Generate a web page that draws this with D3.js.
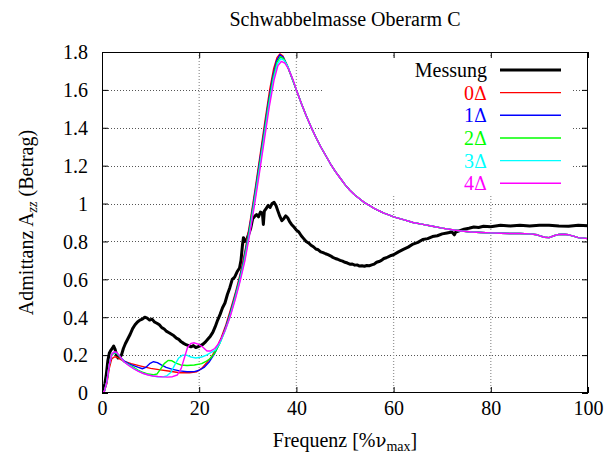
<!DOCTYPE html>
<html>
<head>
<meta charset="utf-8">
<script src="https://cdn.jsdelivr.net/npm/d3@7/dist/d3.min.js"></script>
<style>
  html, body { margin: 0; padding: 0; background: #fff; }
  svg { display: block; }
</style>
</head>
<body>
<svg id="chart" width="605" height="466" font-family="Liberation Serif"></svg>
<script>
// Axis ticks
const xTicks = [0, 20, 40, 60, 80, 100];
const xTickLabels = ["0", "20", "40", "60", "80", "100"];
const yTicks = [0, 0.2, 0.4, 0.6, 0.8, 1.0, 1.2, 1.4, 1.6, 1.8];
const yTickLabels = ["0", "0.2", "0.4", "0.6", "0.8", "1", "1.2", "1.4", "1.6", "1.8"];

// Series names (number + Greek suffix) and colours
const seriesNames = ["Messung", "0Δ", "1Δ", "2Δ", "3Δ", "4Δ"];
const seriesColors = ["#000000", "#ff0000", "#0000ff", "#00ff00", "#00ffff", "#ff00ff"];

// Measured admittance [frequency %, |A_zz|]
const messung = [
  [0,0.0],[0.3,0.02],[0.6,0.05],[0.9,0.1],[1.2,0.17],[1.5,0.21],[1.8,0.225],[2.1,0.235],[2.4,0.248],
  [2.7,0.23],[3.0,0.2],[3.3,0.185],[3.6,0.19],[4.0,0.2],[4.4,0.235],[4.8,0.26],[5.3,0.285],[5.8,0.31],
  [6.3,0.34],[6.8,0.36],[7.3,0.375],[7.8,0.385],[8.3,0.39],[8.8,0.4],[9.3,0.395],[9.8,0.385],[10.3,0.39],
  [10.8,0.375],[11.3,0.368],[11.8,0.36],[12.3,0.345],[12.8,0.338],[13.3,0.325],[13.8,0.318],[14.3,0.31],
  [14.8,0.302],[15.3,0.29],[15.8,0.283],[16.3,0.27],[16.8,0.262],[17.3,0.255],[17.8,0.25],[18.3,0.244],
  [18.8,0.25],[19.3,0.24],[19.8,0.245],[20.3,0.25],[20.8,0.258],[21.3,0.27],[21.8,0.285],[22.3,0.3],
  [22.8,0.32],[23.3,0.35],[23.8,0.385],[24.3,0.415],[24.8,0.45],[25.3,0.475],[25.8,0.52],[26.3,0.556],
  [26.8,0.6],[27.3,0.612],[27.8,0.64],[28.3,0.66],[28.6,0.7],[28.9,0.78],[29.1,0.82],[29.4,0.8],
  [29.8,0.812],[30.2,0.84],[30.6,0.87],[31.0,0.92],[31.4,0.932],[31.8,0.942],[32.2,0.93],[32.6,0.955],
  [33.0,0.95],[33.2,0.89],[33.4,0.96],[33.8,0.975],[34.2,0.99],[34.6,0.98],[35.0,1.0],[35.4,1.006],
  [35.8,0.99],[36.2,0.96],[36.6,0.932],[37.0,0.91],[37.4,0.92],[37.8,0.935],[38.2,0.925],[38.6,0.905],
  [39.0,0.89],[39.5,0.876],[40.0,0.86],[40.5,0.85],[41.0,0.83],[41.5,0.815],[42.0,0.8],[42.5,0.792],
  [43.0,0.78],[43.5,0.772],[44.0,0.76],[44.5,0.756],[45.0,0.745],[45.5,0.741],[46.0,0.735],[46.5,0.73],
  [47.0,0.724],[47.5,0.716],[48.0,0.71],[48.5,0.706],[49.0,0.7],[49.5,0.696],[50.0,0.69],[50.5,0.686],
  [51.0,0.68],[51.5,0.681],[52.0,0.675],[52.5,0.676],[53.0,0.67],[53.5,0.672],[54.0,0.669],[54.5,0.673],
  [55.0,0.672],[55.5,0.676],[56.0,0.68],[56.5,0.69],[57.0,0.694],[57.5,0.7],[58.0,0.71],[58.5,0.714],
  [59.0,0.72],[59.5,0.726],[60.0,0.73],[61.0,0.745],[62.0,0.758],[63.0,0.77],[64.0,0.786],[65.0,0.795],
  [66.0,0.81],[67.0,0.815],[68.0,0.826],[69.0,0.83],[70.0,0.84],[71.0,0.845],[72.0,0.85],[72.5,0.835],
  [72.8,0.85],[73.5,0.856],[74.5,0.865],[75.5,0.87],[76.5,0.876],[77.5,0.874],[78.5,0.88],[80,0.878],
  [82,0.885],[84,0.882],[86,0.886],[88,0.882],[90,0.885],[92,0.886],[94,0.881],[96,0.88],[98,0.886],[100,0.883]
];

// Simulated models 0Δ … 4Δ, low-frequency part up to the resonance
const sim0 = [
  [0,0],[0.5,0.01],[1.0,0.05],[1.5,0.13],[2.0,0.18],[2.5,0.19],[3.0,0.19],[3.5,0.182],[4.5,0.168],
  [6,0.155],[8,0.142],[10,0.13],[12,0.122],[14,0.115],[16,0.107],[18,0.107],[19.5,0.112],[20.5,0.13],
  [21.5,0.158],[22.5,0.19],[23.5,0.235],[24.5,0.29],[25.5,0.36],[26.5,0.445],[27.5,0.535],[28.5,0.635],
  [29.5,0.76],[30.5,0.91],[31.5,1.075],[32.5,1.25],[33.5,1.43],[34.5,1.6],[35.3,1.71],[36.0,1.77],
  [36.6,1.79],[37.2,1.78],[38.0,1.735],[39.0,1.67]
];
const sim1 = [
  [0,0],[0.5,0.01],[1.0,0.06],[1.5,0.15],[2.0,0.2],[2.5,0.212],[3.0,0.21],[3.5,0.195],[4.5,0.17],
  [5.5,0.155],[6.5,0.145],[7.5,0.135],[8.3,0.128],[9.0,0.135],[9.8,0.155],[10.6,0.165],[11.4,0.16],
  [12.2,0.148],[13.2,0.135],[14.5,0.125],[16,0.117],[17.5,0.112],[19,0.113],[20,0.12],[21,0.135],
  [22.1,0.165],[23.1,0.205],[24.1,0.258],[25.1,0.322],[26.1,0.4],[27.1,0.488],[28.1,0.585],[29.1,0.695],
  [30.1,0.835],[31.1,0.995],[32.1,1.165],[33.1,1.34],[34.1,1.515],[35.1,1.665],[35.9,1.752],[36.6,1.785],
  [37.3,1.772],[38.1,1.73],[39.0,1.668]
];
const sim2 = [
  [0,0],[0.5,0.01],[1.0,0.06],[1.5,0.15],[2.0,0.2],[2.5,0.213],[3.0,0.21],[3.5,0.195],[4.5,0.165],
  [5.5,0.15],[6.5,0.135],[7.5,0.12],[8.5,0.108],[9.5,0.1],[10.5,0.096],[11.3,0.1],[12.0,0.125],
  [12.8,0.155],[13.6,0.172],[14.4,0.17],[15.2,0.158],[16.2,0.148],[17.5,0.145],[19,0.148],[20.5,0.155],
  [21.5,0.168],[22.3,0.182],[23.2,0.212],[24.2,0.26],[25.2,0.324],[26.2,0.4],[27.2,0.49],[28.2,0.586],
  [29.2,0.696],[30.2,0.836],[31.2,0.996],[32.2,1.165],[33.2,1.34],[34.2,1.515],[35.2,1.662],
  [36.0,1.745],[36.7,1.775],[37.4,1.764],[38.2,1.725],[39.1,1.662]
];
const sim3 = [
  [0,0],[0.5,0.01],[1.0,0.06],[1.5,0.15],[2.0,0.205],[2.5,0.215],[3.0,0.212],[3.5,0.2],[4.5,0.165],
  [5.5,0.148],[6.5,0.13],[7.5,0.115],[8.5,0.104],[9.5,0.096],[10.5,0.09],[11.5,0.086],[12.5,0.085],
  [13.3,0.09],[14.2,0.11],[15.0,0.15],[15.8,0.185],[16.6,0.2],[17.4,0.2],[18.3,0.19],[19.3,0.185],
  [20.5,0.19],[21.5,0.2],[22.5,0.215],[23.3,0.226],[24.3,0.265],[25.3,0.326],[26.3,0.4],[27.3,0.49],
  [28.3,0.586],[29.3,0.696],[30.3,0.836],[31.3,0.996],[32.3,1.164],[33.3,1.338],[34.3,1.512],
  [35.3,1.658],[36.1,1.738],[36.8,1.765],[37.5,1.756],[38.3,1.72],[39.2,1.658]
];
const sim4 = [
  [0,0],[0.5,0.01],[1.0,0.06],[1.5,0.15],[2.0,0.205],[2.5,0.218],[3.0,0.215],[3.5,0.2],[4.5,0.165],
  [5.5,0.145],[6.5,0.128],[7.5,0.114],[8.5,0.103],[9.5,0.095],[10.5,0.09],[11.5,0.087],[12.5,0.085],
  [13.5,0.084],[14.5,0.086],[15.5,0.095],[16.3,0.13],[17.0,0.19],[17.6,0.24],[18.3,0.262],[19.0,0.265],
  [19.8,0.258],[20.6,0.245],[21.6,0.222],[22.4,0.222],[23.2,0.235],[23.9,0.258],[24.5,0.285],
  [25.4,0.335],[26.4,0.405],[27.4,0.492],[28.4,0.588],[29.4,0.698],[30.4,0.838],[31.4,0.996],
  [32.4,1.162],[33.4,1.335],[34.4,1.508],[35.4,1.652],[36.2,1.728],[36.9,1.75],[37.6,1.742],
  [38.4,1.71],[39.3,1.654]
];
// Shared decay above the resonance (all five models coincide here)
const simTail = [
  [40,1.6],[41,1.53],[42,1.465],[43,1.405],[44,1.35],[45,1.3],[46,1.255],[47,1.21],[48,1.17],
  [49,1.135],[50,1.1],[51,1.07],[52,1.045],[53,1.025],[54,1.005],[55,0.99],[56,0.975],[57,0.962],
  [58,0.95],[59,0.94],[60,0.93],[62,0.915],[64,0.9],[66,0.89],[68,0.88],[70,0.87],[72,0.862],
  [74,0.855],[76,0.85],[78,0.847],[80,0.845],[82,0.843],[84,0.842],[86,0.842],[88,0.84],[89.5,0.835],
  [91,0.822],[92,0.82],[93,0.83],[94,0.837],[95,0.838],[96,0.835],[97,0.828],[98,0.82],[100,0.815]
];

const svg = d3.select("#chart");
const SERIF = "Liberation Serif";
const GREEK = "DejaVu Serif";   // Greek glyphs (Δ, ν) set in their own run
const FS = 20;      // main text size
const FS_SUB = 14;  // subscripts
const plot = { left: 102, right: 588, top: 52, bottom: 393 };

const x = d3.scaleLinear().domain([0, 100]).range([plot.left, plot.right]);
const y = d3.scaleLinear().domain([0, 1.8]).range([plot.bottom, plot.top]);

// Grid
const grid = svg.append("g");
grid.selectAll("line.h").data(yTicks.slice(1, -1)).join("line")
  .attr("x1", plot.left).attr("x2", plot.right)
  .attr("y1", d => Math.round(y(d)) + 0.5).attr("y2", d => Math.round(y(d)) + 0.5)
  .attr("stroke", "#555").attr("stroke-width", 1).attr("stroke-dasharray", "1,2");
grid.selectAll("line.v").data(xTicks.slice(1, -1)).join("line")
  .attr("y1", plot.top).attr("y2", plot.bottom)
  .attr("x1", d => x(d)).attr("x2", d => x(d))
  .attr("stroke", "#999").attr("stroke-width", 1.3).attr("stroke-dasharray", "1,2");

// Key background hides the grid behind it
const key = { left: 324, right: 573, top: 57, bottom: 195 };
svg.append("rect")
  .attr("x", key.left).attr("y", key.top)
  .attr("width", key.right - key.left).attr("height", key.bottom - key.top)
  .attr("fill", "#fff");

// Axes with inward ticks (mirrored on top and right)
const tickLen = 6;
const gx = svg.append("g").attr("transform", `translate(0,${plot.bottom})`)
  .call(d3.axisBottom(x).tickValues(xTicks).tickFormat((d, i) => xTickLabels[i])
    .tickSizeInner(-tickLen).tickSizeOuter(0).tickPadding(8));
const gy = svg.append("g").attr("transform", `translate(${plot.left},0)`)
  .call(d3.axisLeft(y).tickValues(yTicks).tickFormat((d, i) => yTickLabels[i])
    .tickSizeInner(-tickLen).tickSizeOuter(0).tickPadding(14));
const gt = svg.append("g").attr("transform", `translate(0,${plot.top})`)
  .call(d3.axisTop(x).tickValues(xTicks).tickFormat("").tickSizeInner(-tickLen).tickSizeOuter(0));
const gr = svg.append("g").attr("transform", `translate(${plot.right},0)`)
  .call(d3.axisRight(y).tickValues(yTicks).tickFormat("").tickSizeInner(-tickLen).tickSizeOuter(0));
[gx, gy, gt, gr].forEach(g => {
  g.attr("font-family", SERIF).attr("font-size", FS);
  g.select(".domain").remove();
  g.selectAll("line").attr("stroke", "#000");
  g.selectAll("text").attr("fill", "#000").attr("font-family", SERIF).attr("font-size", FS);
});
gy.selectAll("text").attr("dy", "0.34em");

// Curves
const line = d3.line().x(d => x(d[0])).y(d => y(d[1]));
svg.append("clipPath").attr("id", "plotclip").append("rect")
  .attr("x", plot.left).attr("y", plot.top)
  .attr("width", plot.right - plot.left).attr("height", plot.bottom - plot.top);
const cg = svg.append("g").attr("clip-path", "url(#plotclip)");
cg.append("path").datum(messung).attr("d", line)
  .attr("fill", "none").attr("stroke", seriesColors[0]).attr("stroke-width", 3)
  .attr("stroke-linejoin", "round");
const models = [sim0, sim1, sim2, sim3, sim4];
models.forEach((m, i) => {
  cg.append("path").datum(m.concat(simTail)).attr("d", line)
    .attr("fill", "none").attr("stroke", seriesColors[i + 1]).attr("stroke-width", 1.4)
    .attr("stroke-linejoin", "round");
});

// Border
svg.append("rect")
  .attr("x", plot.left + 0.5).attr("y", plot.top + 0.5)
  .attr("width", plot.right - plot.left - 1).attr("height", plot.bottom - plot.top - 1)
  .attr("fill", "none").attr("stroke", "#000").attr("stroke-width", 1);

// Title
svg.append("text")
  .attr("x", (plot.left + plot.right) / 2).attr("y", 26)
  .attr("text-anchor", "middle").attr("font-family", SERIF).attr("font-size", FS)
  .text("Schwabbelmasse Oberarm C");

// Key: Latin part in the serif face, Greek letter in its own tspan
const keyRow0 = 70, keyStep = 22.65;
const kg = svg.append("g");
seriesNames.forEach((name, i) => {
  const cy = keyRow0 + i * keyStep;
  const t = kg.append("text").attr("x", 487).attr("y", cy + 7)
    .attr("text-anchor", "end").attr("font-family", SERIF).attr("font-size", FS)
    .attr("fill", seriesColors[i]);
  const gi = name.indexOf("Δ");
  if (gi < 0) {
    t.text(name);
  } else {
    t.append("tspan").text(name.slice(0, gi));
    t.append("tspan").attr("font-family", GREEK).attr("font-size", FS - 2).text("Δ");
  }
  kg.append("line").attr("x1", 500).attr("x2", 561).attr("y1", cy).attr("y2", cy)
    .attr("stroke", seriesColors[i]).attr("stroke-width", i === 0 ? 3 : 1.4);
});

// Axis titles
const xl = svg.append("text")
  .attr("x", (plot.left + plot.right) / 2).attr("y", 447)
  .attr("text-anchor", "middle").attr("font-family", SERIF).attr("font-size", FS);
xl.append("tspan").text("Frequenz [%");
xl.append("tspan").attr("font-family", GREEK).attr("font-size", FS - 2).text("ν");
xl.append("tspan").attr("font-size", FS_SUB).attr("dy", 4).text("max");
xl.append("tspan").attr("dy", -4).text("]");

const yl = svg.append("text")
  .attr("transform", `translate(33,${(plot.top + plot.bottom) / 2}) rotate(-90)`)
  .attr("text-anchor", "middle").attr("font-family", SERIF).attr("font-size", FS);
yl.append("tspan").text("Admittanz A");
yl.append("tspan").attr("font-size", FS_SUB).attr("font-style", "italic")
  .attr("dy", 4).text("zz");
yl.append("tspan").attr("dy", -4).text(" (Betrag)");
</script>
</body>
</html>
